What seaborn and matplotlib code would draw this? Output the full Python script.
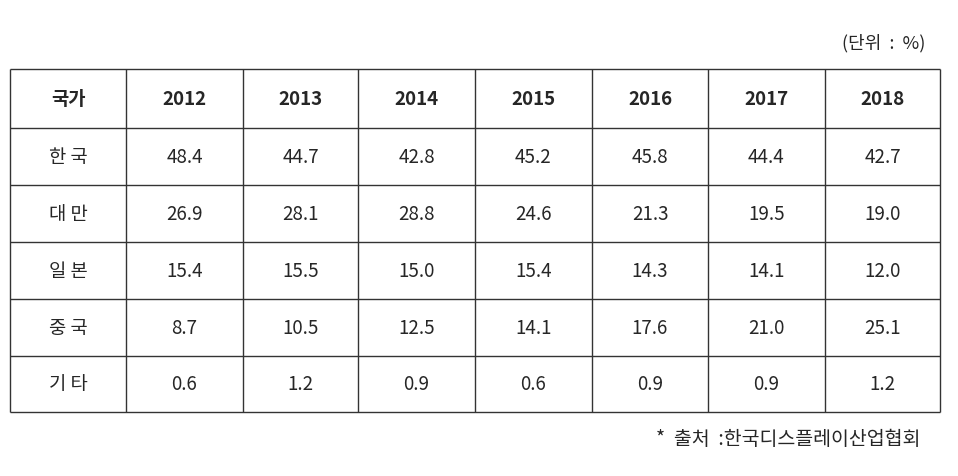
import matplotlib
matplotlib.use("Agg")
import matplotlib.pyplot as plt
import seaborn as sns

sns.set_style("white")
plt.rcParams['font.family'] = ['Noto Sans CJK KR', 'DejaVu Sans']

years = ["2012", "2013", "2014", "2015", "2016", "2017", "2018"]
countries = ["한국", "대만", "일본", "중국", "기타"]
korea = [48.4, 44.7, 42.8, 45.2, 45.8, 44.4, 42.7]
taiwan = [26.9, 28.1, 28.8, 24.6, 21.3, 19.5, 19.0]
japan = [15.4, 15.5, 15.0, 15.4, 14.3, 14.1, 12.0]
china = [8.7, 10.5, 12.5, 14.1, 17.6, 21.0, 25.1]
others = [0.6, 1.2, 0.9, 0.6, 0.9, 0.9, 1.2]
rows = [korea, taiwan, japan, china, others]

fig = plt.figure(figsize=(9.58, 4.77), dpi=100)
ax = fig.add_axes([0, 0, 1, 1])
ax.set_xlim(0, 958)
ax.set_ylim(477, 0)
ax.axis("off")

col_x = [10, 126, 243, 358, 475, 592, 708, 825, 940]
row_y = [70, 129, 186, 243, 300, 357, 413]

ax.hlines(row_y, col_x[0], col_x[-1], color="#333333", lw=1)
ax.vlines(col_x, row_y[0], row_y[-1], color="#333333", lw=1)

def cx(i):
    return (col_x[i] + col_x[i + 1]) / 2

def cy(j):
    return (row_y[j] + row_y[j + 1]) / 2

ax.text(cx(0), cy(0), "국가", ha="center", va="center", fontsize=13.5, fontweight="bold")
for i, y in enumerate(years):
    ax.text(cx(i + 1), cy(0), y, ha="center", va="center", fontsize=13.5, fontweight="semibold")
for j, (name, vals) in enumerate(zip(countries, rows)):
    ax.text(cx(0), cy(j + 1), " ".join(name), ha="center", va="center", fontsize=13.5)
    for i, v in enumerate(vals):
        ax.text(cx(i + 1), cy(j + 1), f"{v:.1f}", ha="center", va="center", fontsize=13.5)

ax.text(925, 43, "(단위  :  %)", ha="right", va="center", fontsize=13)
ax.text(920, 440, "*  출처  :한국디스플레이산업협회", ha="right", va="center", fontsize=14)

fig.savefig("out.png", dpi=100, facecolor="white")
